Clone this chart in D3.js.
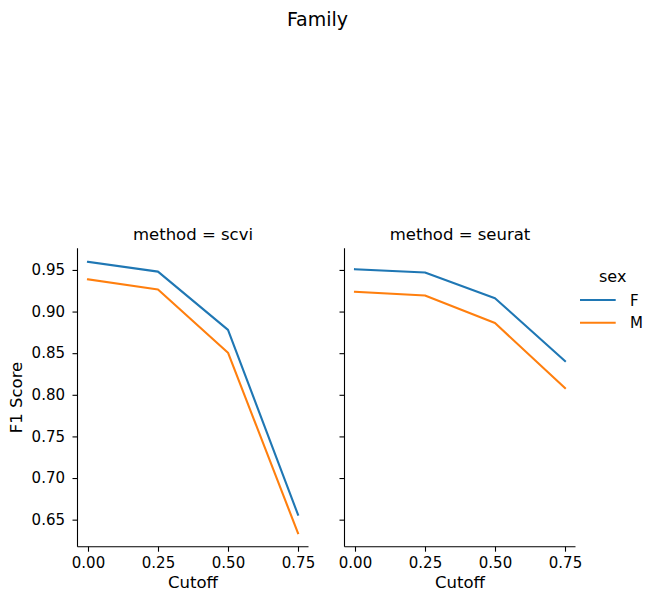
<!DOCTYPE html>
<html>
<head>
<meta charset="utf-8">
<title>Family</title>
<script src="https://cdn.jsdelivr.net/npm/d3@7"></script>
<style>
  body { margin: 0; background: #fff; }
  text { font-family: "DejaVu Sans", sans-serif; fill: #000; }
</style>
</head>
<body>
<script>
// data
var cutoffs = [0, 0.25, 0.5, 0.75];
var methods = ['scvi', 'seurat'];
var sexes = ['F', 'M'];
var scviF = [0.9597, 0.948, 0.878, 0.656];
var scviM = [0.9387, 0.9266, 0.8506, 0.6338];
var seuratF = [0.9509, 0.9469, 0.916, 0.8406];
var seuratM = [0.9238, 0.9193, 0.8862, 0.8082];
var xTicks = [0, 0.25, 0.5, 0.75];
var yTicks = [0.65, 0.70, 0.75, 0.80, 0.85, 0.90, 0.95];

var series = {
  scvi: { F: scviF, M: scviM },
  seurat: { F: seuratF, M: seuratM }
};
var colors = { F: '#1f77b4', M: '#ff7f0e' };

var W = 657, H = 602;
var plotTop = 248.3, plotBottom = 546.7;
var panelW = 231;
var panelX = [77.5, 344.5];

var svg = d3.select('body').append('svg')
  .attr('width', W)
  .attr('height', H);

// shared scales, with matplotlib-like 5% padding
var xPad = 0.05 * (d3.max(cutoffs) - d3.min(cutoffs));
var allY = scviF.concat(scviM, seuratF, seuratM);
var yMin = d3.min(allY), yMax = d3.max(allY);
var yPad = 0.05 * (yMax - yMin);

var xScale = d3.scaleLinear()
  .domain([d3.min(cutoffs) - xPad, d3.max(cutoffs) + xPad])
  .range([0, panelW]);
var yScale = d3.scaleLinear()
  .domain([yMin - yPad, yMax + yPad])
  .range([plotBottom, plotTop]);

var line = d3.line()
  .x(function(d, i) { return xScale(cutoffs[i]); })
  .y(function(d) { return yScale(d); });

svg.append('text')
  .attr('x', 317.5)
  .attr('y', 26)
  .attr('text-anchor', 'middle')
  .attr('font-size', '19px')
  .text('Family');

methods.forEach(function(m, pi) {
  var g = svg.append('g').attr('transform', 'translate(' + panelX[pi] + ',0)');

  sexes.forEach(function(s) {
    g.append('path')
      .attr('d', line(series[m][s]))
      .attr('fill', 'none')
      .attr('stroke', colors[s])
      .attr('stroke-width', 2.1)
      .attr('stroke-linejoin', 'round')
      .attr('stroke-linecap', 'square');
  });

  // x axis
  var xAxis = g.append('g')
    .attr('transform', 'translate(0,' + plotBottom + ')')
    .call(d3.axisBottom(xScale).tickValues(xTicks).tickSize(5).tickPadding(6)
      .tickFormat(d3.format('.2f')));

  // y axis
  var yAxis = g.append('g')
    .call(d3.axisLeft(yScale).tickValues(yTicks).tickSize(5).tickPadding(7.5)
      .tickFormat(pi === 0 ? d3.format('.2f') : ''));

  [xAxis, yAxis].forEach(function(ax) {
    ax.select('.domain').attr('stroke-width', 1.1);
    ax.selectAll('.tick line').attr('stroke-width', 1.1);
    ax.selectAll('text')
      .attr('font-size', '15px')
      .attr('font-family', 'DejaVu Sans')
      .attr('fill', '#000');
  });
  // plain spines, no outer tick caps
  xAxis.select('.domain').attr('d', 'M0,0H' + panelW);
  yAxis.select('.domain').attr('d', 'M0,' + plotTop + 'V' + plotBottom);

  g.append('text')
    .attr('x', panelW / 2)
    .attr('y', 240)
    .attr('text-anchor', 'middle')
    .attr('font-size', '16.5px')
    .text('method = ' + m);

  g.append('text')
    .attr('x', panelW / 2)
    .attr('y', 588)
    .attr('text-anchor', 'middle')
    .attr('font-size', '16.5px')
    .text('Cutoff');
});

svg.append('text')
  .attr('transform', 'translate(22,' + ((plotTop + plotBottom) / 2) + ') rotate(-90)')
  .attr('text-anchor', 'middle')
  .attr('font-size', '16.5px')
  .text('F1 Score');

// legend
var legend = svg.append('g');
legend.append('text')
  .attr('x', 612.7)
  .attr('y', 282)
  .attr('text-anchor', 'middle')
  .attr('font-size', '16px')
  .text('sex');
sexes.forEach(function(s, i) {
  var y = 300 + i * 22.7;
  legend.append('line')
    .attr('x1', 580).attr('x2', 615.7)
    .attr('y1', y).attr('y2', y)
    .attr('stroke', colors[s])
    .attr('stroke-width', 2.1);
  legend.append('text')
    .attr('x', 630)
    .attr('y', y + 5.5)
    .attr('font-size', '15px')
    .text(s);
});
</script>
</body>
</html>
